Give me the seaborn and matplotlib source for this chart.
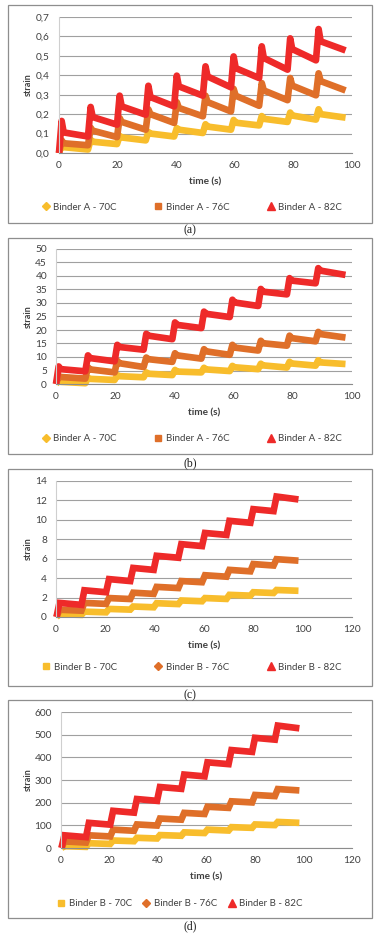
import pandas as pd
import matplotlib
matplotlib.use('Agg')
import matplotlib.pyplot as plt
from matplotlib.lines import Line2D
from matplotlib.patches import Rectangle
import seaborn as sns

# cycle start times (s) and last time of the test
cyc_A = [0, 9.9, 19.8, 29.6, 39.3, 49.1, 58.7, 68.3, 78.0, 87.7]
last_A = 97.8
cyc_B = [0.2, 10.3, 20.3, 30.1, 39.6, 49.6, 59.2, 69.1, 78.8, 88.2]
last_B = 98.3

# (a) Binder A, peak / value shortly after unloading / end of recovery
a70_peak = [0.040, 0.068, 0.088, 0.108, 0.128, 0.148, 0.170, 0.190, 0.208, 0.225]
a70_after = [0.030, 0.058, 0.080, 0.100, 0.120, 0.136, 0.156, 0.176, 0.193, 0.200]
a70_end = [0.018, 0.046, 0.065, 0.085, 0.103, 0.120, 0.142, 0.160, 0.172, 0.182]
a76_peak = [0.065, 0.130, 0.180, 0.225, 0.262, 0.295, 0.330, 0.360, 0.386, 0.410]
a76_after = [0.050, 0.115, 0.160, 0.200, 0.232, 0.262, 0.295, 0.322, 0.347, 0.370]
a76_end = [0.040, 0.082, 0.120, 0.155, 0.189, 0.214, 0.243, 0.272, 0.297, 0.322]
a82_peak = [0.165, 0.237, 0.295, 0.346, 0.398, 0.446, 0.497, 0.549, 0.590, 0.638]
a82_after = [0.106, 0.185, 0.240, 0.288, 0.343, 0.394, 0.437, 0.489, 0.535, 0.575]
a82_end = [0.085, 0.146, 0.197, 0.240, 0.295, 0.338, 0.386, 0.429, 0.477, 0.528]

# (b) Binder A
b70_peak = [1.2, 2.3, 3.3, 4.3, 5.2, 6.0, 6.7, 7.5, 8.2, 8.8]
b70_after = [0.8, 1.9, 2.9, 3.8, 4.6, 5.4, 6.2, 6.9, 7.6, 8.0]
b70_end = [0.3, 1.5, 2.5, 3.3, 4.3, 4.8, 5.5, 6.1, 6.8, 7.4]
b76_peak = [3.0, 6.2, 8.6, 9.8, 11.4, 12.9, 14.5, 16.0, 17.9, 19.3]
b76_after = [2.6, 5.4, 7.7, 9.2, 10.6, 12.1, 13.5, 15.1, 17.0, 18.5]
b76_end = [2.0, 4.3, 6.3, 8.2, 9.4, 10.8, 12.4, 14.2, 15.8, 17.2]
b82_peak = [6.5, 10.6, 14.5, 18.6, 22.8, 26.8, 31.2, 35.2, 39.2, 42.9]
b82_after = [5.5, 9.6, 13.7, 17.9, 21.9, 26.0, 30.2, 34.2, 38.3, 42.0]
b82_end = [4.7, 8.4, 12.7, 16.6, 20.7, 24.8, 28.9, 33.2, 37.3, 40.4]

# (c) Binder B
c70_peak = [0.28, 0.55, 0.83, 1.08, 1.42, 1.70, 1.95, 2.28, 2.55, 2.78]
c70_end = [0.22, 0.48, 0.76, 1.00, 1.33, 1.62, 1.86, 2.20, 2.47, 2.70]
c76_peak = [0.75, 1.45, 1.95, 2.50, 3.10, 3.70, 4.30, 4.85, 5.45, 5.95]
c76_end = [0.65, 1.35, 1.85, 2.38, 2.98, 3.58, 4.15, 4.70, 5.30, 5.80]
c82_peak = [1.45, 2.75, 3.90, 5.05, 6.30, 7.50, 8.65, 9.90, 11.10, 12.40]
c82_end = [1.25, 2.55, 3.70, 4.85, 6.10, 7.30, 8.45, 9.70, 10.90, 12.10]

# (d) Binder B
d70_peak = [8, 21, 33, 45, 57, 69, 81, 92, 104, 115]
d70_end = [5, 18, 30, 42, 54, 66, 77, 89, 101, 111]
d76_peak = [29, 56, 81, 104, 130, 155, 182, 206, 234, 260]
d76_end = [24, 51, 76, 99, 125, 150, 177, 201, 229, 254]
d82_peak = [56, 111, 164, 216, 269, 324, 378, 432, 486, 540]
d82_end = [48, 103, 156, 208, 261, 316, 370, 424, 478, 528]

a_yticks = [0, 0.1, 0.2, 0.3, 0.4, 0.5, 0.6, 0.7]
a_ylabels = ['0,0', '0,1', '0,2', '0,3', '0,4', '0,5', '0,6', '0,7']
b_yticks = [0, 5, 10, 15, 20, 25, 30, 35, 40, 45, 50]
c_yticks = [0, 2, 4, 6, 8, 10, 12, 14]
d_yticks = [0, 100, 200, 300, 400, 500, 600]
xticks_100 = [0, 20, 40, 60, 80, 100]
xticks_120 = [0, 20, 40, 60, 80, 100, 120]

labels_A = ['Binder A - 70C', 'Binder A - 76C', 'Binder A - 82C']
labels_B = ['Binder B - 70C', 'Binder B - 76C', 'Binder B - 82C']
colors = ['#f8bd2c', '#df6f29', '#ee2a29']

W, H = 379, 935


def curve(starts, t_last, peak, end, after=None, rise=0.9, drop=1.6):
    t, y = [starts[0]], [0.0]
    for k in range(len(starts)):
        t.append(starts[k] + rise)
        y.append(peak[k])
        if after is not None:
            t.append(starts[k] + drop)
            y.append(after[k])
        t.append(starts[k + 1] if k + 1 < len(starts) else t_last)
        y.append(end[k])
    return t, y


def make_df(labels, series):
    frames = []
    for lab, (t, y) in zip(labels, series):
        frames.append(pd.DataFrame({'time': t, 'strain': y, 'series': lab}))
    return pd.concat(frames, ignore_index=True)


sns.set_style('white')
plt.rcParams['font.family'] = ['Lato', 'DejaVu Sans']

fig = plt.figure(figsize=(W / 100, H / 100), dpi=100)


def panel(df, labels, box, axbox, xmax, xticks, yticks, ylabels, markers,
          leg_c, leg_space, cap, join):
    # chart area border
    x0, y0, x1, y1 = box
    fig.patches.append(Rectangle((x0 / W, 1 - y1 / H), (x1 - x0) / W, (y1 - y0) / H,
                                 transform=fig.transFigure, fill=False,
                                 ec='#8e8e8e', lw=0.9))
    l, t, r, b = axbox
    ax = fig.add_axes([l / W, 1 - b / H, (r - l) / W, (b - t) / H])
    sns.lineplot(data=df, x='time', y='strain', hue='series', hue_order=labels,
                 palette=colors, estimator=None, sort=False, lw=4.8,
                 legend=False, ax=ax)
    for ln in ax.lines:
        ln.set_solid_joinstyle(join)
        ln.set_solid_capstyle('butt')
        ln.set_clip_on(False)
    ax.set_xlim(0, xmax)
    ax.set_ylim(yticks[0], yticks[-1])
    ax.set_xticks(xticks)
    ax.set_yticks(yticks)
    ax.set_yticklabels(ylabels if ylabels else [str(v) for v in yticks])
    ax.grid(axis='y', color='#a0a0a0', lw=0.8)
    ax.grid(axis='x', visible=False)
    ax.set_axisbelow(True)
    for s in ['top', 'right']:
        ax.spines[s].set_visible(False)
    ax.spines['left'].set_color('#cfcfcf')
    ax.spines['left'].set_linewidth(0.8)
    ax.spines['bottom'].set_color('#8c8c8c')
    ax.spines['bottom'].set_linewidth(0.8)
    ax.tick_params(axis='y', length=0, pad=6.5, labelsize=7.3, labelcolor='#404040')
    ax.tick_params(axis='x', length=2.5, width=0.8, color='#8c8c8c', pad=3.5,
                   labelsize=7.3, labelcolor='#404040', direction='out')
    ax.set_xlabel('')
    ax.set_ylabel('')
    fig.text((l + r) / 2 / W, 1 - (b + 29) / H, 'time (s)', ha='center', va='center',
             fontsize=7.2, fontweight='bold', color='#404040')
    fig.text(28 / W, 1 - (t + b) / 2 / H, 'strain', ha='center', va='center',
             rotation=90, fontsize=6.5, fontweight='bold', color='#404040')
    handles = [Line2D([], [], ls='none', marker=m, ms=ms, color=c, mec=c)
               for (m, ms), c in zip(markers, colors)]
    fig.legend(handles, labels, loc='center',
               bbox_to_anchor=(leg_c[0] / W, 1 - leg_c[1] / H), ncol=3,
               frameon=False, fontsize=7, handlelength=0.8, handletextpad=0.35,
               columnspacing=leg_space, borderpad=0, labelcolor='#404040')
    fig.text((x0 + x1) / 2 / W, 1 - cap[1] / H, cap[0], ha='center', va='center',
             fontsize=8.5, family='Liberation Serif', color='#202020')
    return ax


mk_A = [('D', 4.2), ('s', 5.0), ('^', 5.5)]
mk_B = [('s', 5.0), ('D', 4.2), ('^', 5.5)]

df_a = make_df(labels_A, [curve(cyc_A, last_A, a70_peak, a70_end, a70_after),
                          curve(cyc_A, last_A, a76_peak, a76_end, a76_after),
                          curve(cyc_A, last_A, a82_peak, a82_end, a82_after)])
df_b = make_df(labels_A, [curve(cyc_A, last_A, b70_peak, b70_end, b70_after),
                          curve(cyc_A, last_A, b76_peak, b76_end, b76_after),
                          curve(cyc_A, last_A, b82_peak, b82_end, b82_after)])
df_c = make_df(labels_B, [curve(cyc_B, last_B, c70_peak, c70_end, rise=1.2),
                          curve(cyc_B, last_B, c76_peak, c76_end, rise=1.2),
                          curve(cyc_B, last_B, c82_peak, c82_end, rise=1.2)])
df_d = make_df(labels_B, [curve(cyc_B, last_B, d70_peak, d70_end, rise=1.2),
                          curve(cyc_B, last_B, d76_peak, d76_end, rise=1.2),
                          curve(cyc_B, last_B, d82_peak, d82_end, rise=1.2)])

panel(df_a, labels_A, (8, 5, 372, 223), (59, 17, 352, 153), 100, xticks_100,
      a_yticks, a_ylabels, mk_A, (192, 207), 3.9, ('(a)', 230), 'round')
panel(df_b, labels_A, (8, 238, 372, 454), (56, 249, 352, 384), 100, xticks_100,
      b_yticks, None, mk_A, (192, 439), 3.9, ('(b)', 463), 'round')
panel(df_c, labels_B, (8, 469, 372, 686), (56, 481, 352, 617), 120, xticks_120,
      c_yticks, None, mk_B, (192, 667), 3.9, ('(c)', 695), 'miter')
panel(df_d, labels_B, (8, 700, 372, 918), (61, 712, 352, 848), 120, xticks_120,
      d_yticks, None, mk_B, (180, 904), 1.1, ('(d)', 926), 'miter')

fig.savefig('out.png', dpi=100, facecolor='white')
